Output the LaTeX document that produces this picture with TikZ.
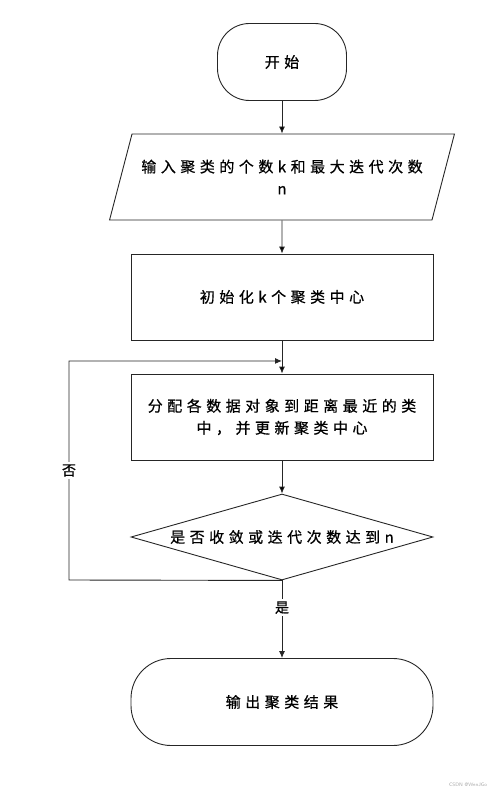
\documentclass[tikz,border=0pt]{standalone}
\usepackage{fontspec}
\newfontfamily\cjk[LetterSpace=30,FakeBold=0.6]{Noto Sans CJK SC}
\newfontfamily\cjklab[FakeBold=0.6]{Noto Sans CJK SC}
\usepackage{tikz}
\usetikzlibrary{shapes.geometric,arrows.meta,calc}

\tikzset{
  flow/.style={draw=black!85, line width=0.9pt, font=\cjk\fontsize{15}{22}\selectfont, align=center},
  terminal/.style={flow, rectangle, rounded corners=32pt},
  procbox/.style={flow, rectangle, minimum width=302pt, minimum height=86pt},
  iobox/.style={flow, trapezium, trapezium left angle=63, trapezium right angle=117,
    trapezium stretches=true, minimum width=346pt, minimum height=86pt, inner xsep=0pt},
  decide/.style={flow, diamond, shape aspect=3.5, minimum width=302pt, minimum height=86pt, inner sep=0pt},
  link/.style={draw=black!85, line width=0.9pt, -{Latex[length=7pt,width=6pt]}},
  branch/.style={fill=white, inner sep=2pt, font=\cjklab\fontsize{14}{16}\selectfont}
}

\begin{document}
\begin{tikzpicture}[x=1pt, y=-1pt]
      \useasboundingbox (0,0) rectangle (500,794);

      \node[terminal, minimum width=129pt, minimum height=77pt] (start) at (282,62) {开始};
      \node[iobox] (input) at (282,177) {输入聚类的个数k和最大迭代次数\\n};
      \node[procbox] (init) at (282,297) {初始化k个聚类中心};
      \node[procbox] (assign) at (282,417) {分配各数据对象到距离最近的类\\中，并更新聚类中心};
      \node[decide] (judge) at (282,537) {是否收敛或迭代次数达到n};
      \node[terminal, rounded corners=40pt, minimum width=302pt, minimum height=87pt] (stop) at (282,702) {输出聚类结果};

      \coordinate (merge) at ($(init.south)!0.62!(assign.north)$);
      \coordinate (loopbot) at (69,580);
      \coordinate (looptop) at (69,361);

      \path[link]
      (start) edge (input)
      (input) edge (init)
      (init) edge (assign)
      (assign) edge (judge);
      \draw[link] (judge.south) -- node[branch, pos=0.35] {是} (stop.north);
      \draw[link] (judge.south) -- (loopbot) -- node[branch, pos=0.5] {否} (looptop) -- (merge);

      \node[text=black!35, font=\fontsize{5}{6}\selectfont\sffamily] (mark) at (468,785) {CSDN @WenJGo};
\end{tikzpicture}
\end{document}
